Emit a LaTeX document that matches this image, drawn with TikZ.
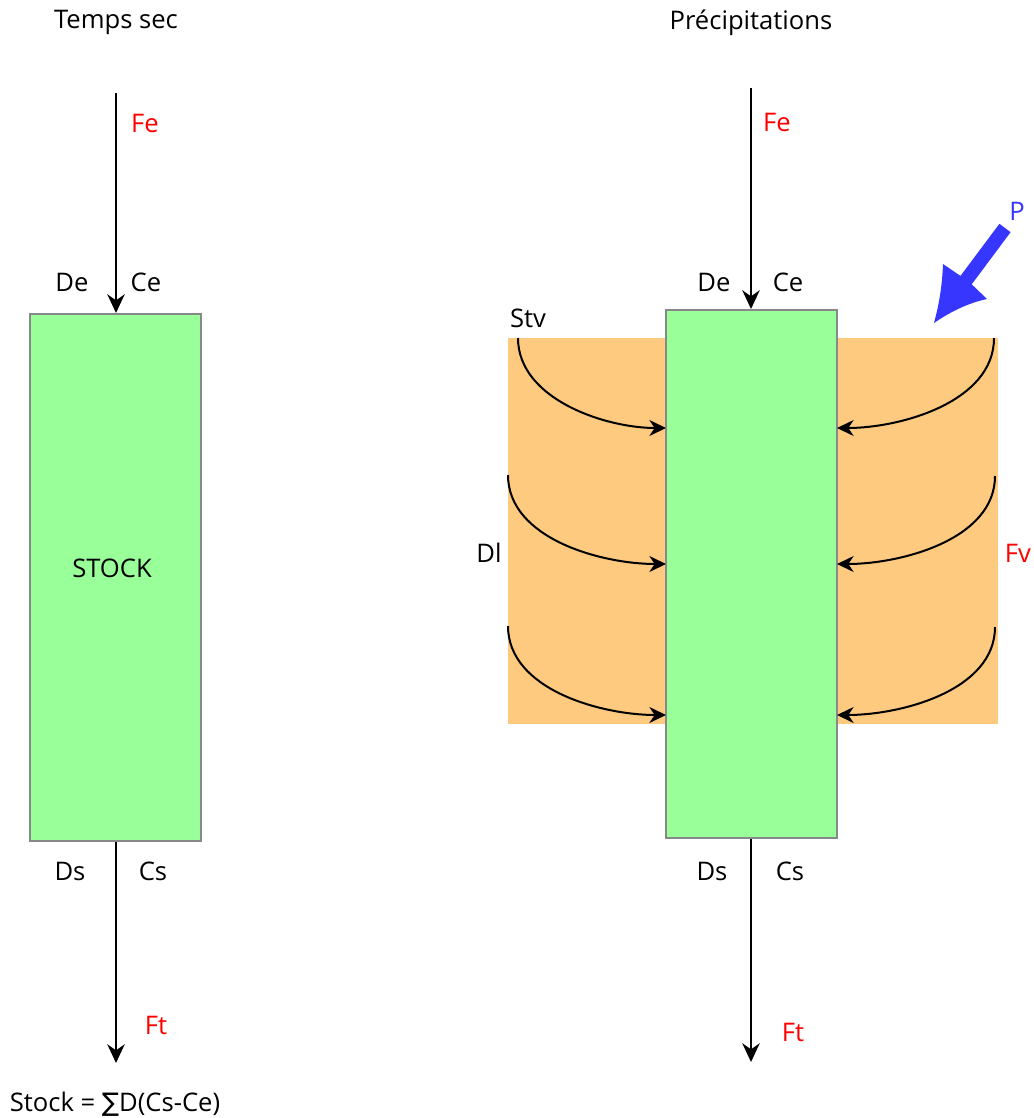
\documentclass[tikz,border=0pt]{standalone}
\usepackage{fontspec}
\setmainfont{Open Sans}
\newfontfamily\symfont{DejaVu Sans}
\usetikzlibrary{arrows.meta}
\definecolor{stockgreen}{HTML}{99FF99}
\definecolor{boxgray}{HTML}{888888}
\definecolor{soil}{HTML}{FDCA80}
\definecolor{rainblue}{HTML}{3636FF}
\begin{document}
\begin{tikzpicture}[x=0.75pt,y=-0.75pt,
  lbl/.style={font=\fontsize{19.2}{23}\selectfont, inner sep=0pt},
  redlbl/.style={lbl, text=red},
  stockbox/.style={draw=boxgray, line width=1.5pt, fill=stockgreen, inner sep=0pt},
  flow/.style={line width=1.9pt, -{Stealth[length=14pt,width=13pt,inset=4.5pt]}},
  lateral/.style={line width=1.5pt, -{Stealth[length=12.5pt,width=12pt,inset=4pt]}}]
\useasboundingbox (0,0) rectangle (1034,1118);
% ---------- left: temps sec ----------
\node[lbl] (t1) at (116,22) {Temps sec};
\node[stockbox, minimum width=171*0.75pt, minimum height=527*0.75pt] (s1) at (115.5,577.5) {};
\node[lbl] (stock) at (112,568) {STOCK};
\coordinate (in1) at (116,93);
\coordinate (out1) at (116,1063);
\draw[flow] (in1) -- (s1.north -| in1);
\draw[flow] (s1.south -| out1) -- (out1);
\node[redlbl] (fe1) at (145,123) {Fe};
\node[lbl] (de1) at (72,282) {De};
\node[lbl] (ce1) at (146,282) {Ce};
\node[lbl] (ds1) at (70,871) {Ds};
\node[lbl] (cs1) at (153,871) {Cs};
\node[redlbl] (ft1) at (156,1025) {Ft};
\node[lbl] (formula) at (115,1104) {Stock = {\symfont ∑}D(Cs-Ce)};
% ---------- right: precipitations ----------
\node[lbl] (t2) at (751,23) {Précipitations};
\fill[soil] (508,338) rectangle (998,724);
\node[stockbox, minimum width=171*0.75pt, minimum height=528*0.75pt] (s2) at (751.5,574) {};
\coordinate (in2) at (751,88);
\coordinate (out2) at (751,1062);
\draw[flow] (in2) -- (s2.north -| in2);
\draw[flow] (s2.south -| out2) -- (out2);
\node[redlbl] (fe2) at (777,122) {Fe};
\node[lbl] (de2) at (714,282) {De};
\node[lbl] (ce2) at (788,282) {Ce};
\node[lbl] (ds2) at (712,871) {Ds};
\node[lbl] (cs2) at (790,871) {Cs};
\node[redlbl] (ft2) at (793,1032) {Ft};
\node[lbl] (stv) at (528,318) {Stv};
\node[lbl] (dl) at (489,553) {Dl};
\node[redlbl] (fv) at (1018,553) {Fv};
% lateral flows
\coordinate (l1) at (518,338);
\coordinate (l2) at (508,475);
\coordinate (l3) at (508,626);
\coordinate (r1) at (994,338);
\coordinate (r2) at (995,476);
\coordinate (r3) at (995,627);
\coordinate (le1) at (666,428);
\coordinate (le2) at (666,564);
\coordinate (le3) at (666,715);
\coordinate (re1) at (837,428);
\coordinate (re2) at (837,564);
\coordinate (re3) at (837,715);
\draw[lateral] (l1) to[out=-90,in=180,looseness=0.9] (le1);
\draw[lateral] (l2) to[out=-90,in=180,looseness=0.9] (le2);
\draw[lateral] (l3) to[out=-90,in=180,looseness=0.9] (le3);
\draw[lateral] (r1) to[out=-90,in=0,looseness=0.9] (re1);
\draw[lateral] (r2) to[out=-90,in=0,looseness=0.9] (re2);
\draw[lateral] (r3) to[out=-90,in=0,looseness=0.9] (re3);
% rain arrow
\node[lbl, text=rainblue] (p) at (1017,211) {P};
\fill[rainblue] (999.4,223.8) -- (960.5,275.9) -- (943,264)
  .. controls (942,290) and (938,308) .. (934,323)
  .. controls (950,312) and (968,303) .. (987,299)
  -- (971.7,284.3) -- (1010.6,232.2) -- cycle;
\end{tikzpicture}
\end{document}
